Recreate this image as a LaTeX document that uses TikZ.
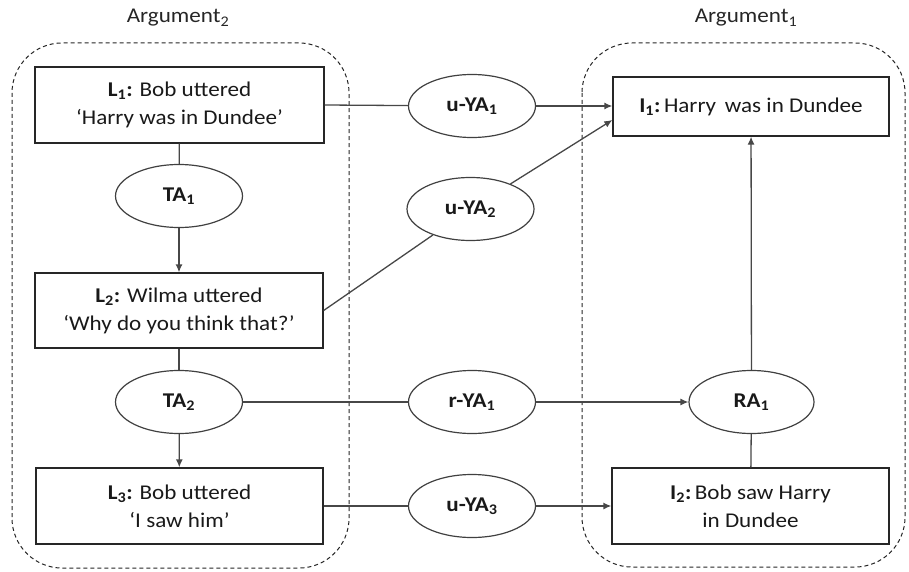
\documentclass[tikz,border=0pt]{standalone}
\usepackage{fontspec}
\setmainfont{Carlito}[FakeStretch=1.1]
\usetikzlibrary{shapes.geometric,arrows.meta}
\begin{document}
\begin{tikzpicture}[x=1pt,y=-1pt,
  font=\fontsize{21}{28}\selectfont,
  line/.style={draw=black!72,line width=1.3pt},
  arr/.style={line,-{Latex[length=8pt,width=7pt]}},
  textbox/.style={draw=black!85,line width=1.3pt,rectangle,align=center,inner sep=0pt,text=black!90},
  scheme/.style={draw=black!75,line width=1.2pt,ellipse,minimum width=127pt,minimum height=63pt,inner sep=0pt,font=\fontsize{21}{28}\selectfont\bfseries,text=black!90},
  group/.style={draw=black!85,line width=1pt,dash pattern=on 4pt off 3pt,rounded corners=50pt}]
\useasboundingbox (0,0) rectangle (909,572);

% argument groupings
\draw[group] (12,43) rectangle (349,568);
\draw[group] (582,43) rectangle (905,567);
\node[text=black!85] (arg2) at (178,18) {Argument\textsubscript{2}};
\node[text=black!85] (arg1) at (746,18) {Argument\textsubscript{1}};

% locutions
\node[textbox,minimum width=289pt,minimum height=76pt] (L1) at (179.5,105)
  {\textbf{L\textsubscript{1}:} Bob uttered\\`Harry was in Dundee'};
\node[textbox,minimum width=288pt,minimum height=75pt] (L2) at (179,310.5)
  {\textbf{L\textsubscript{2}:} Wilma uttered\\`Why do you think that?'};
\node[textbox,minimum width=287pt,minimum height=76pt] (L3) at (179.5,506)
  {\textbf{L\textsubscript{3}:} Bob uttered\\`I saw him'};

% propositions
\node[textbox,minimum width=276pt,minimum height=59pt] (I1) at (751,106.5)
  {\textbf{I\textsubscript{1}:}\,Harry\,\ was in Dundee};
\node[textbox,minimum width=277pt,minimum height=76pt] (I2) at (750.5,506)
  {\textbf{I\textsubscript{2}:}\,Bob saw Harry\\in Dundee};

% transitions and illocutionary connections
\node[scheme] (TA1) at (179,196) {TA\textsubscript{1}};
\node[scheme] (TA2) at (179,402) {TA\textsubscript{2}};
\node[scheme] (uYA1) at (472,106) {u-YA\textsubscript{1}};
\node[scheme] (uYA2) at (470.5,209) {u-YA\textsubscript{2}};
\node[scheme] (rYA1) at (472,402) {r-YA\textsubscript{1}};
\node[scheme] (uYA3) at (472,506) {u-YA\textsubscript{3}};
\node[scheme,minimum width=125pt] (RA1) at (751.5,402) {RA\textsubscript{1}};

% connectors
\draw[line] (L1) -- (TA1);
\draw[arr] (TA1) -- (L2);
\draw[line] (L2) -- (TA2);
\draw[arr] (TA2) -- (L3);

\draw[line] (L1.east) -- (uYA1);
\draw[arr] (uYA1) -- (uYA1 -| I1.west);
\draw[line] (L2.east) -- (uYA2);
\draw[arr] (uYA2) -- ([yshift=-13.5pt]I1.west);
\draw[line] (TA2) -- (rYA1);
\draw[arr] (rYA1) -- (RA1);
\draw[line] (L3.east) -- (uYA3);
\draw[arr] (uYA3) -- (I2.west);

\draw[line] (I2) -- (RA1);
\draw[arr] (RA1) -- (I1);
\end{tikzpicture}
\end{document}
